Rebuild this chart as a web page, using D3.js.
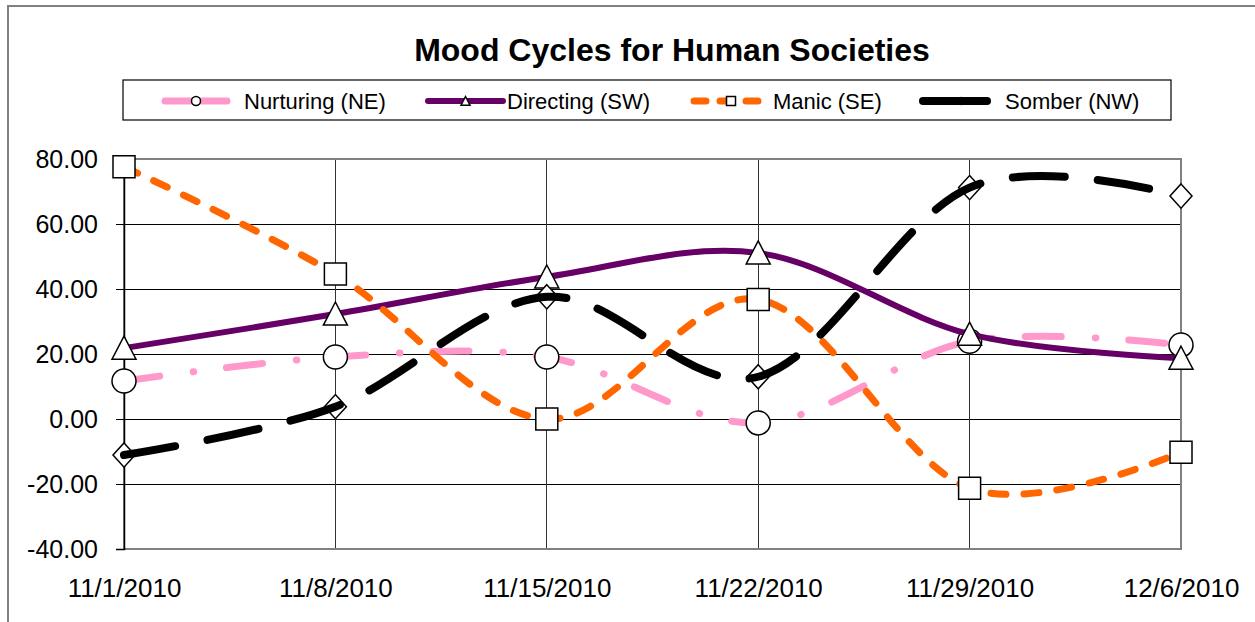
<!DOCTYPE html>
<html>
<head>
<meta charset="utf-8">
<script src="https://cdn.jsdelivr.net/npm/d3@7"></script>
<style>
  body { margin: 0; background: #fff; }
  text { font-family: "Liberation Sans", Arial, sans-serif; fill: #000; }
</style>
</head>
<body>
<div id="chart"></div>
<script>
// data
var dates = ["2010-11-01", "2010-11-08", "2010-11-15", "2010-11-22", "2010-11-29", "2010-12-06"];
var nurturing = [11.7, 19.1, 19.1, -1.2, 23.9, 22.8];
var directing = [21.8, 32.3, 43.7, 51.1, 26.1, 18.7];
var manic     = [77.6, 44.6, 0.0, 36.8, -21.3, -10.2];
var somber    = [-11.1, 3.8, 37.6, 13.0, 71.2, 68.6];
var seriesNames = ["Nurturing (NE)", "Directing (SW)", "Manic (SE)", "Somber (NW)"];
var yTicks = [-40, -20, 0, 20, 40, 60, 80];

var W = 1255, H = 622;
var plot = {left: 124, right: 1181, top: 159, bottom: 549};

var parse = d3.timeParse("%Y-%m-%d");
var days = dates.map(parse);

var svg = d3.select("#chart")
    .append("svg")
    .attr("width", W)
    .attr("height", H);

// outer chart frame
svg.append("rect")
    .attr("x", 8).attr("y", 6)
    .attr("width", 1260).attr("height", 630)
    .style("fill", "none")
    .style("stroke", "#808080")
    .style("stroke-width", 2);

var x = d3.scaleTime()
    .domain([days[0], days[days.length - 1]])
    .range([plot.left, plot.right]);

var y = d3.scaleLinear()
    .domain([-40, 80])
    .range([plot.bottom, plot.top]);

// title
svg.append("text")
    .attr("x", 672)
    .attr("y", 61)
    .attr("text-anchor", "middle")
    .style("font-size", "32px")
    .style("font-weight", "bold")
    .text("Mood Cycles for Human Societies");

// gridlines
svg.append("g")
    .selectAll("line")
    .data(yTicks.filter(function(d){ return d > -40 && d < 80; }))
    .enter().append("line")
    .attr("x1", plot.left).attr("x2", plot.right)
    .attr("y1", function(d){ return y(d); })
    .attr("y2", function(d){ return y(d); })
    .style("stroke", "#000")
    .style("stroke-width", 1)
    .style("shape-rendering", "crispEdges");

svg.append("g")
    .selectAll("line")
    .data(days.slice(1, -1))
    .enter().append("line")
    .attr("x1", function(d){ return x(d); })
    .attr("x2", function(d){ return x(d); })
    .attr("y1", plot.top).attr("y2", plot.bottom)
    .style("stroke", "#333")
    .style("stroke-width", 1)
    .style("shape-rendering", "crispEdges");

// plot area border
svg.append("rect")
    .attr("x", plot.left).attr("y", plot.top)
    .attr("width", plot.right - plot.left)
    .attr("height", plot.bottom - plot.top)
    .style("fill", "none")
    .style("stroke", "#808080")
    .style("stroke-width", 2);

// y axis (plain hyphen for negatives, like the original)
var fmt = d3.format(".2f");
var yAxis = svg.append("g")
    .attr("transform", "translate(" + plot.left + ",0)")
    .call(d3.axisLeft(y).tickValues(yTicks).tickSize(8).tickPadding(18)
        .tickFormat(function(d){ return fmt(d).replace("\u2212", "-"); }));
yAxis.select(".domain").style("stroke", "#000").style("stroke-width", 1.5);
yAxis.selectAll(".tick line").style("stroke", "#000");
yAxis.selectAll("text")
    .style("font-size", "25px")
    .style("font-family", "Liberation Sans, Arial, sans-serif");

// x axis labels
var xAxis = svg.append("g")
    .attr("transform", "translate(0," + plot.bottom + ")")
    .call(d3.axisBottom(x).tickValues(days).tickSize(0).tickPadding(30)
        .tickFormat(d3.timeFormat("%-m/%-d/%Y")));
xAxis.select(".domain").remove();
xAxis.selectAll("text")
    .style("font-size", "26px")
    .style("font-family", "Liberation Sans, Arial, sans-serif");

// marker shapes
function markerPath(kind, s) {
    if (kind == "circle") return "M" + (-s) + ",0A" + s + "," + s + " 0 1,0 " + s + ",0A" + s + "," + s + " 0 1,0 " + (-s) + ",0Z";
    if (kind == "square") return "M" + (-s) + "," + (-s) + "H" + s + "V" + s + "H" + (-s) + "Z";
    if (kind == "triangle") return "M0," + (-s) + "L" + s + "," + (s * 0.92) + "H" + (-s) + "Z";
    return "M0," + (-s * 1.1) + "L" + s + ",0L0," + (s * 1.1) + "L" + (-s) + ",0Z";
}

var series = [
    {name: seriesNames[0], values: nurturing, color: "#ff99cc", width: 7, dash: "36,34,0.5,33", cap: "round", marker: "circle", size: 12, lineOnTop: false},
    {name: seriesNames[1], values: directing, color: "#660066", width: 6, dash: null, cap: "round", marker: "triangle", size: 12, lineOnTop: false},
    {name: seriesNames[2], values: manic, color: "#ff6600", width: 7, dash: "15,18", cap: "round", marker: "square", size: 11, lineOnTop: false},
    {name: seriesNames[3], values: somber, color: "#000000", width: 8, dash: "52,33", cap: "round", marker: "diamond", size: 11, lineOnTop: true}
];

var line = d3.line()
    .x(function(d){ return x(d.date); })
    .y(function(d){ return y(d.value); })
    .curve(d3.curveCardinal.tension(0));

series.forEach(function(s) {
    var pts = days.map(function(d, i){ return {date: d, value: s.values[i]}; });
    var g = svg.append("g");

    function drawLine() {
        g.append("path")
            .datum(pts)
            .attr("d", line)
            .style("fill", "none")
            .style("stroke", s.color)
            .style("stroke-width", s.width)
            .style("stroke-linecap", s.cap)
            .style("stroke-dasharray", s.dash);
    }
    function drawMarkers() {
        g.selectAll(".mk")
            .data(pts)
            .enter().append("path")
            .attr("class", "mk")
            .attr("transform", function(d){ return "translate(" + x(d.date) + "," + y(d.value) + ")"; })
            .attr("d", markerPath(s.marker, s.size))
            .style("fill", "#fff")
            .style("stroke", "#000")
            .style("stroke-width", 1.5);
    }
    if (s.lineOnTop) { drawMarkers(); drawLine(); }
    else { drawLine(); drawMarkers(); }
});

// legend
var legend = svg.append("g");
legend.append("rect")
    .attr("x", 123).attr("y", 80)
    .attr("width", 1048).attr("height", 40)
    .style("fill", "#fff")
    .style("stroke", "#000")
    .style("stroke-width", 1.2);

var legendX = [[165, 227], [428, 503], [694, 767], [923, 987]];
var legendText = [244, 507, 773, 1005];
var ly = 101;

series.forEach(function(s, i) {
    legend.append("line")
        .attr("x1", legendX[i][0]).attr("x2", legendX[i][1])
        .attr("y1", ly).attr("y2", ly)
        .style("stroke", s.color)
        .style("stroke-width", s.width)
        .style("stroke-linecap", "round")
        .style("stroke-dasharray", s.marker == "square" ? "12,14" : null);
    var mx = (legendX[i][0] + legendX[i][1]) / 2;
    if (s.marker == "square") mx = 731;
    if (s.marker == "diamond") mx = 961;
    legend.append("path")
        .attr("transform", "translate(" + mx + "," + ly + ")")
        .attr("d", markerPath(s.marker, s.marker == "diamond" ? 3 : 4.5))
        .style("fill", s.marker == "diamond" ? "#000" : "#fff")
        .style("stroke", "#000")
        .style("stroke-width", 1.5);
    legend.append("text")
        .attr("x", legendText[i])
        .attr("y", ly)
        .attr("dy", "0.36em")
        .style("font-size", "22px")
        .text(s.name);
});
</script>
</body>
</html>
